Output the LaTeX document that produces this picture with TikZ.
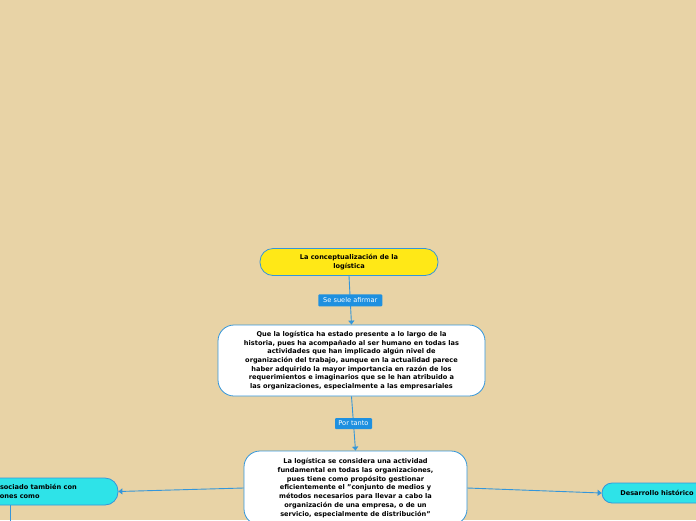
\documentclass[tikz,border=0pt]{standalone}
\usepackage{fontspec}
\setmainfont{DejaVu Sans}
\usetikzlibrary{arrows.meta}
\definecolor{fondo}{RGB}{232,211,166}
\definecolor{borde}{RGB}{52,150,218}
\definecolor{etiq}{RGB}{30,144,224}
\definecolor{amarillo}{RGB}{255,232,23}
\definecolor{cian}{RGB}{46,227,232}

\begin{document}
\begin{tikzpicture}[x=1pt,y=-1pt,
    caja/.style={draw=borde,line width=0.8pt,rounded corners=13pt,align=center,
      font=\fontsize{6.6}{8.7}\selectfont\bfseries,inner sep=0pt},
    etiqueta/.style={fill=etiq,text=white,rounded corners=1pt,inner sep=0pt,
      font=\fontsize{6.6}{7}\selectfont},
    linea/.style={draw=borde,line width=0.9pt},
    flecha/.style={linea,-{Triangle[length=4pt,width=6pt]}}]
      \fill[fondo] (0,0) rectangle (696,520);
      \useasboundingbox (0,0) rectangle (696,520);
      \clip (0,0) rectangle (696,520);
      % nodos
      \node[caja,fill=amarillo,minimum width=178pt,minimum height=27pt] (concepto) at (349,262)
        {La conceptualización de la\\logística};
      \node[caja,fill=white,rounded corners=16pt,minimum width=267pt,minimum height=71pt] (historia) at (351.5,360.5)
        {Que la logística ha estado presente a lo largo de la\\
         historia, pues ha acompañado al ser humano en todas las\\
         actividades que han implicado algún nivel de\\
         organización del trabajo, aunque en la actualidad parece\\
         haber adquirido la mayor importancia en razón de los\\
         requerimientos e imaginarios que se le han atribuido a\\
         las organizaciones, especialmente a las empresariales};
      \node[caja,fill=white,rounded corners=16pt,minimum width=223pt,minimum height=74pt] (actividad) at (355.5,488)
        {La logística se considera una actividad\\
         fundamental en todas las organizaciones,\\
         pues tiene como propósito gestionar\\
         eficientemente el "conjunto de medios y\\
         métodos necesarios para llevar a cabo la\\
         organización de una empresa, o de un\\
         servicio, especialmente de distribución"};
      \node[caja,fill=cian,minimum width=215pt,minimum height=27pt] (asociado) at (10.5,491.5)
        {El término es asociado también con\\funciones como};
      \node[caja,fill=cian,rounded corners=10pt,minimum width=110pt,minimum height=20pt] (desarrollo) at (657,493)
        {Desarrollo histórico};
      \coordinate (abajo) at (10.5,560);
      % conectores
      \draw[flecha] (concepto.south) -- node[etiqueta,minimum width=64pt,minimum height=12pt] (afirmar) {Se suele afirmar} (historia.north);
      \draw[flecha] (historia.south) -- node[etiqueta,minimum width=37pt,minimum height=11pt] (portanto) {Por tanto} (actividad.north);
      \draw[flecha] (actividad.west) -- (asociado.east);
      \draw[flecha] (actividad.east) -- (desarrollo.west);
      \draw[linea] (asociado.south) -- (abajo);
\end{tikzpicture}
\end{document}
